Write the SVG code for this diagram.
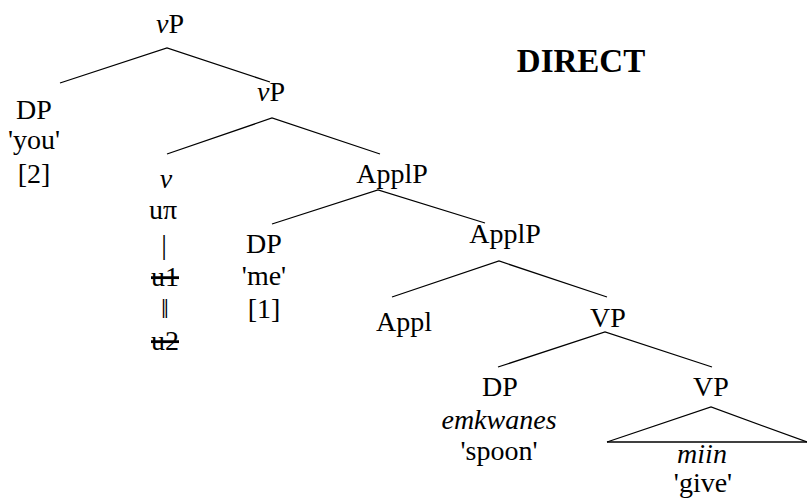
<svg xmlns="http://www.w3.org/2000/svg" width="807" height="502" viewBox="0 0 807 502">
<style>
text{font-family:'Liberation Serif','Times New Roman',serif;font-size:28px;fill:#000;text-anchor:middle}
.i{font-style:italic}
.b{font-weight:bold;font-size:33px}
.s{text-decoration:line-through}
.e line,.e polyline{stroke:#000;stroke-width:1.3;fill:none}
</style>
<rect width="807" height="502" fill="#fff"/>
<g class="e" id="edges">
<polyline points="60,83 167,48 270,82"/>
<polyline points="167,154 272,118 380,154"/>
<polyline points="272,224 378,190 485,223"/>
<polyline points="392,297 499,261 607,297"/>
<polyline points="498,367 605,332 712,367"/>
<polyline points="607,442 711,407 807,442"/>
<line x1="607" y1="442" x2="807" y2="442"/>
</g>
<g id="title"><text class="b" x="581" y="72">DIRECT</text></g>
<g id="vP1"><text x="170" y="33"><tspan class="i">v</tspan>P</text></g>
<g id="DP_you"><text x="34" y="119">DP</text><text x="34" y="149">'you'</text><text x="34" y="183">[2]</text></g>
<g id="vP2"><text x="271" y="101"><tspan class="i">v</tspan>P</text></g>
<g id="v"><text class="i" x="166" y="188">v</text><text x="163" y="219">uπ</text><text x="164" y="254">|</text><text class="s" x="165" y="286">u1</text><text x="165" y="318">‖</text><text class="s" x="165" y="350">u2</text></g>
<g id="ApplP1"><text x="392" y="183">ApplP</text></g>
<g id="DP_me"><text x="264" y="253">DP</text><text x="264" y="285">'me'</text><text x="264" y="318">[1]</text></g>
<g id="ApplP2"><text x="505" y="243">ApplP</text></g>
<g id="Appl"><text x="404" y="331">Appl</text></g>
<g id="VP1"><text x="608" y="327">VP</text></g>
<g id="DP_spoon"><text x="500" y="396">DP</text><text class="i" x="499" y="429">emkwanes</text><text x="499" y="460">'spoon'</text></g>
<g id="VP2"><text x="711" y="396">VP</text></g>
<g id="give"><text class="i" x="702" y="463">miin</text><text x="703" y="492">'give'</text></g>
</svg>
